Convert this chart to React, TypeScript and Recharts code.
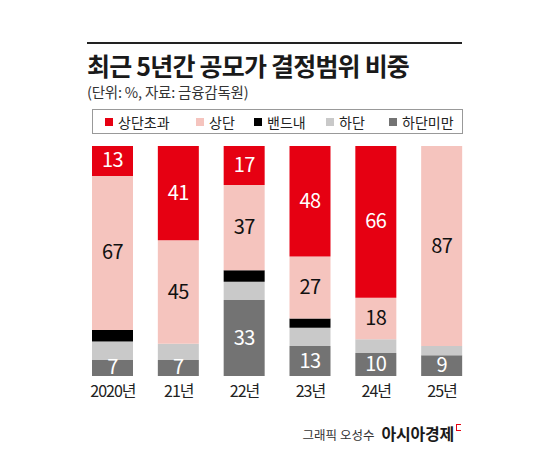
import { BarChart, Bar, XAxis, YAxis, LabelList } from 'recharts';

const years = ['2020년', '21년', '22년', '23년', '24년', '25년'];
const over = [13, 41, 17, 48, 66, 0]; // 상단초과
const upper = [67, 45, 37, 27, 18, 87]; // 상단
const band = [5, 0, 5, 4, 0, 0]; // 밴드내
const lower = [8, 7, 8, 8, 6, 4]; // 하단
const under = [7, 7, 33, 13, 10, 9]; // 하단미만

const legendNames = ['상단초과', '상단', '밴드내', '하단', '하단미만'];
const legendColors = ['#e60012', '#f5c4be', '#000000', '#c9c9c9', '#737373'];

const FONT = '"Noto Sans CJK KR", "Noto Sans", sans-serif';

const data = years.map((y, i) => ({
  year: y,
  over: over[i],
  upper: upper[i],
  band: band[i],
  lower: lower[i],
  under: under[i],
}));

function makeLabel(color: string) {
  return (props: any) => {
    const { x, y, width, height, value } = props;
    if (!value) return null;
    return (
      <text
        x={x + width / 2}
        y={y + height / 2 - 2}
        textAnchor="middle"
        dominantBaseline="central"
        fill={color}
        fontSize={20}
        fontFamily={FONT}
        letterSpacing={-0.6}
      >
        {value}
      </text>
    );
  };
}

function YearTick(props: any) {
  const { x, y, payload } = props;
  return (
    <text
      x={x}
      y={y}
      dy={6}
      textAnchor="middle"
      dominantBaseline="central"
      fill="#222"
      fontSize={16}
      fontFamily={FONT}
      letterSpacing={-1}
    >
      {payload.value}
    </text>
  );
}

export default function App() {
  return (
    <div style={{ position: 'absolute', left: 0, top: 0, width: 550, height: 454, background: '#fff', fontFamily: FONT }}>
      <div style={{ position: 'absolute', left: 87, top: 42, width: 375, height: 2, background: '#222' }} />
      <div style={{ position: 'absolute', left: 87, top: 49, fontSize: 25, fontWeight: 700, color: '#1a1a1a', letterSpacing: -0.8, lineHeight: '32px', whiteSpace: 'nowrap' }}>
        최근 5년간 공모가 결정범위 비중
      </div>
      <div style={{ position: 'absolute', left: 87, top: 82, fontSize: 14.5, color: '#333', letterSpacing: -0.2, lineHeight: '20px', whiteSpace: 'nowrap' }}>
        (단위: %, 자료: 금융감독원)
      </div>
      <div style={{ position: 'absolute', left: 92, top: 109, width: 369, height: 23, border: '1px solid #999', boxSizing: 'content-box' }}>
        {legendNames.map((n, i) => {
          const lefts = [12, 103, 161, 233, 296];
          return (
            <div key={n} style={{ position: 'absolute', left: lefts[i], top: 0, height: 23, display: 'flex', alignItems: 'center', whiteSpace: 'nowrap' }}>
              <span style={{ width: 8, height: 8, background: legendColors[i], display: 'inline-block', marginRight: 5 }} />
              <span style={{ fontSize: 14, color: '#222' }}>{n}</span>
            </div>
          );
        })}
      </div>
      <div style={{ position: 'absolute', left: 0, top: 0 }}>
        <BarChart
          width={550}
          height={454}
          data={data}
          margin={{ top: 146, right: 75, bottom: 48, left: 80 }}
        >
          <YAxis hide domain={[0, 100]} />
          <XAxis dataKey="year" height={30} axisLine={false} tickLine={false} tick={<YearTick />} interval={0} />
          <Bar dataKey="under" stackId="a" fill="#737373" barSize={41} isAnimationActive={false}>
            <LabelList dataKey="under" content={makeLabel('#fff')} />
          </Bar>
          <Bar dataKey="lower" stackId="a" fill="#c9c9c9" barSize={41} isAnimationActive={false} />
          <Bar dataKey="band" stackId="a" fill="#000000" barSize={41} isAnimationActive={false} />
          <Bar dataKey="upper" stackId="a" fill="#f5c4be" barSize={41} isAnimationActive={false}>
            <LabelList dataKey="upper" content={makeLabel('#111')} />
          </Bar>
          <Bar dataKey="over" stackId="a" fill="#e60012" barSize={41} isAnimationActive={false}>
            <LabelList dataKey="over" content={makeLabel('#fff')} />
          </Bar>
        </BarChart>
      </div>
      <div style={{ position: 'absolute', right: 89, top: 421, display: 'flex', alignItems: 'baseline', whiteSpace: 'nowrap' }}>
        <span style={{ fontSize: 12.5, color: '#333', marginRight: 7 }}>그래픽 오성수</span>
        <span style={{ fontSize: 16, fontWeight: 700, color: '#1a1a1a', letterSpacing: -0.2 }}>아시아경제</span>
        <span style={{ position: 'relative', top: -9, marginLeft: 2, width: 4, height: 5, border: '1.5px solid #e60012', borderRight: 'none', display: 'inline-block' }} />
      </div>
    </div>
  );
}
